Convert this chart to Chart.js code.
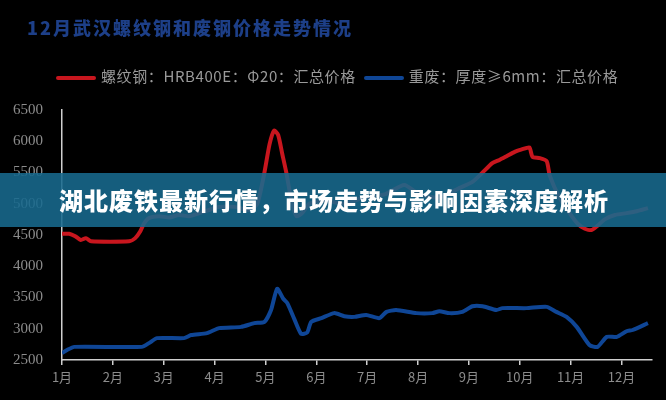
<!DOCTYPE html>
<html>
<head>
<meta charset="utf-8">
<script src="https://cdn.jsdelivr.net/npm/chart.js@4"></script>
<style>
  body { margin: 0; background: #000; }
  #wrap { position: relative; width: 666px; height: 400px; background: #000; overflow: hidden; }
  #title { position: absolute; left: 27px; top: 14px; font: 900 18px "Noto Sans CJK SC"; color: #1d3f88; letter-spacing: 2px; }
  #legend { position: absolute; left: 56px; top: 65px; font: 15px "Noto Sans CJK SC"; color: #9a9a9a; white-space: nowrap; letter-spacing: 0.6px; }
  #legend span.sw { display: inline-block; width: 40px; height: 4px; vertical-align: middle; margin-right: 5px; border-radius: 2px; }
  #banner { position: absolute; left: 0; top: 173px; width: 666px; height: 54px; background: rgba(24,106,142,0.88);
            color: #fff; font: 900 24px "Noto Sans CJK SC"; line-height: 54px; padding-left: 59px; box-sizing: border-box; letter-spacing: 1px; }
</style>
</head>
<body>
<div id="wrap">
  <canvas id="myChart" width="666" height="400"></canvas>
  <div id="title">12月武汉螺纹钢和废钢价格走势情况</div>
  <div id="legend"><span class="sw" style="background:#c8161e"></span>螺纹钢：HRB400E：Φ20：汇总价格<span class="sw" style="background:#0f4696;margin-left:8px"></span>重废：厚度≥6mm：汇总价格</div>
  <div id="banner">湖北废铁最新行情，市场走势与影响因素深度解析</div>
</div>
<script>
const monthTicks = [1, 2, 3, 4, 5, 6, 7, 8, 9, 10, 11, 12];

// rebar HRB400E 20mm, position on the month axis and price
const rebarMonths = [1.0, 1.14, 1.26, 1.37, 1.47, 1.57, 2.32, 2.44, 2.54, 2.61, 2.71, 2.91, 3.11, 3.30, 3.50, 3.70, 3.89,
  4.09, 4.39, 4.68, 4.84, 4.98, 5.08, 5.17, 5.25, 5.33, 5.41, 5.51, 5.61, 5.72, 5.86, 6.16, 6.55, 6.94, 7.34, 7.73,
  8.03, 8.42, 8.81, 9.07, 9.27, 9.46, 9.60, 9.74, 9.90, 10.04, 10.19, 10.25, 10.39, 10.53, 10.59, 10.78, 10.98,
  11.14, 11.28, 11.41, 11.53, 11.67, 11.87, 12.10, 12.30, 12.52];
const rebarPrices = [4520, 4520, 4480, 4420, 4450, 4400, 4400, 4450, 4560, 4680, 4770, 4800, 4780, 4820, 4800, 4850, 4900,
  4950, 4950, 4900, 5000, 5500, 5950, 6170, 6100, 5800, 5500, 5050, 4800, 4850, 5000, 5050, 5000, 5100, 5150, 5300,
  5150, 5100, 5250, 5350, 5500, 5650, 5700, 5760, 5830, 5870, 5900, 5750, 5730, 5680, 5450, 5100, 4850,
  4680, 4600, 4580, 4650, 4750, 4820, 4850, 4880, 4930];

// heavy scrap >= 6mm
const scrapMonths = [1.0, 1.10, 1.24, 2.57, 2.71, 2.87, 3.40, 3.54, 3.85, 4.09, 4.52, 4.78, 4.98, 5.11, 5.23, 5.35, 5.43,
  5.57, 5.70, 5.82, 5.90, 6.10, 6.35, 6.55, 6.75, 6.98, 7.24, 7.38, 7.57, 7.97, 8.28, 8.42, 8.62, 8.87, 9.07, 9.27,
  9.54, 9.66, 10.13, 10.53, 10.72, 10.92, 11.12, 11.37, 11.53, 11.71, 11.91, 12.10, 12.22, 12.52];
const scrapPrices = [2610, 2660, 2710, 2710, 2770, 2850, 2850, 2900, 2930, 3010, 3030, 3090, 3110, 3300, 3640, 3480, 3410,
  3150, 2920, 2940, 3110, 3170, 3250, 3200, 3190, 3220, 3170, 3270, 3300, 3250, 3250, 3280, 3250, 3270, 3360, 3360,
  3300, 3330, 3330, 3350, 3270, 3190, 3030, 2740, 2710, 2870, 2870, 2960, 2980, 3090];

const yTicks = [2500, 3000, 3500, 4000, 4500, 5000, 5500, 6000, 6500];

const toPoints = (xs, ys) => xs.map((x, i) => ({ x: x, y: ys[i] }));

new Chart(document.getElementById("myChart"), {
  type: "line",
  data: {
    datasets: [
      {
        label: "螺纹钢：HRB400E：Φ20：汇总价格",
        data: toPoints(rebarMonths, rebarPrices),
        borderColor: "#c8161e",
        borderWidth: 4,
        pointRadius: 0,
        tension: 0.2,
      },
      {
        label: "重废：厚度≥6mm：汇总价格",
        data: toPoints(scrapMonths, scrapPrices),
        borderColor: "#0f4696",
        borderWidth: 4,
        pointRadius: 0,
        tension: 0.2,
      },
    ],
  },
  options: {
    responsive: false,
    animation: false,
    layout: { padding: { top: 110, right: 14, bottom: 0, left: 0 } },
    plugins: { legend: { display: false }, tooltip: { enabled: false } },
    scales: {
      x: {
        type: "linear",
        min: 1,
        max: 12.6,
        afterBuildTicks: (scale) => { scale.ticks = monthTicks.map((v) => ({ value: v })); },
        afterFit: (scale) => { scale.height = 40; },
        grid: { display: true, drawOnChartArea: false, drawTicks: true, tickLength: 5, color: "#cfcfcf", lineWidth: 1.5 },
        border: { display: true, color: "#cfcfcf", width: 1.5 },
        ticks: {
          color: "#8c8c8c",
          font: { family: "Noto Sans CJK SC", size: 13 },
          padding: 4,
          maxRotation: 0,
          autoSkip: false,
          callback: (v) => v + "月",
        },
      },
      y: {
        min: 2500,
        max: 6500,
        afterBuildTicks: (scale) => { scale.ticks = yTicks.map((v) => ({ value: v })); },
        afterFit: (scale) => { scale.width = 62; },
        grid: { display: false },
        border: { display: true, color: "#cfcfcf", width: 1.5 },
        ticks: {
          color: "#8c8c8c",
          font: { family: "Liberation Serif", size: 15 },
          padding: 11,
          callback: (v) => String(v),
        },
      },
    },
  },
});
</script>
</body>
</html>
